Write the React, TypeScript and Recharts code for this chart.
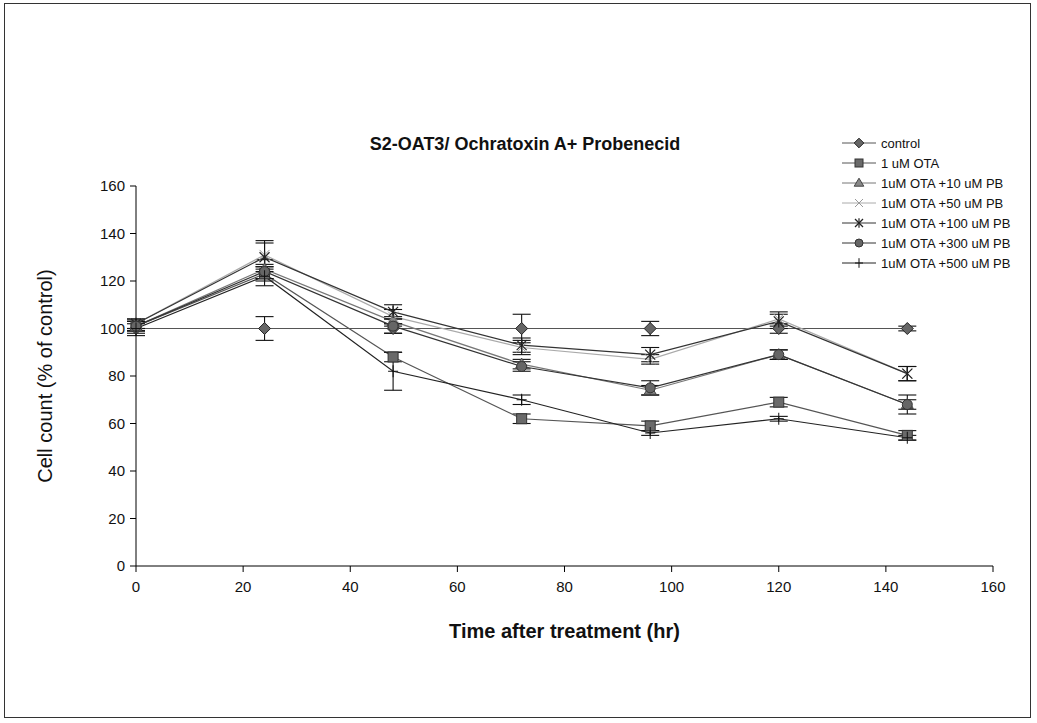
import React from "react";
import { LineChart, Line, XAxis, YAxis, ErrorBar } from "recharts";

const times = [0, 24, 48, 72, 96, 120, 144];
const xTicks = [0, 20, 40, 60, 80, 100, 120, 140, 160];
const yTicks = [0, 20, 40, 60, 80, 100, 120, 140, 160];

const control = [100, 100, 100, 100, 100, 100, 100];
const controlErr = [3, 5, 2, 6, 3, 2, 1];
const ota1 = [101, 123, 88, 62, 59, 69, 55];
const ota1Err = [2, 3, 2, 2, 2, 2, 2];
const pb10 = [101, 125, 103, 85, 74, 89, 68];
const pb10Err = [2, 4, 2, 2, 2, 2, 2];
const pb50 = [102, 131, 105, 92, 87, 104, 81];
const pb50Err = [2, 6, 3, 3, 2, 3, 3];
const pb100 = [102, 130, 107, 93, 89, 103, 81];
const pb100Err = [2, 6, 3, 3, 3, 3, 3];
const pb300 = [101, 124, 101, 84, 75, 89, 68];
const pb300Err = [2, 3, 3, 2, 3, 2, 4];
const pb500 = [100, 122, 82, 70, 56, 62, 54];
const pb500Err = [2, 4, 8, 2, 1, 1, 1];

const seriesNames = [
  "control",
  "1 uM OTA",
  "1uM OTA +10 uM PB",
  "1uM OTA +50 uM PB",
  "1uM OTA +100 uM PB",
  "1uM OTA +300 uM PB",
  "1uM OTA +500 uM PB",
];

const data = times.map((t, i) => ({
  t,
  control: control[i],
  controlErr: controlErr[i],
  ota1: ota1[i],
  ota1Err: ota1Err[i],
  pb10: pb10[i],
  pb10Err: pb10Err[i],
  pb50: pb50[i],
  pb50Err: pb50Err[i],
  pb100: pb100[i],
  pb100Err: pb100Err[i],
  pb300: pb300[i],
  pb300Err: pb300Err[i],
  pb500: pb500[i],
  pb500Err: pb500Err[i],
}));

type Shape = "diamond" | "square" | "triangle" | "x" | "star" | "circle" | "plus";

const styles: { key: string; shape: Shape; line: string; fill: string; stroke: string }[] = [
  { key: "control", shape: "diamond", line: "#555", fill: "#666", stroke: "#222" },
  { key: "ota1", shape: "square", line: "#555", fill: "#6a6a6a", stroke: "#333" },
  { key: "pb10", shape: "triangle", line: "#777", fill: "#888", stroke: "#444" },
  { key: "pb50", shape: "x", line: "#aaa", fill: "none", stroke: "#999" },
  { key: "pb100", shape: "star", line: "#333", fill: "none", stroke: "#222" },
  { key: "pb300", shape: "circle", line: "#333", fill: "#666", stroke: "#333" },
  { key: "pb500", shape: "plus", line: "#222", fill: "none", stroke: "#111" },
];

function Marker({ cx, cy, shape, fill, stroke, s = 1 }: { cx: number; cy: number; shape: Shape; fill: string; stroke: string; s?: number }) {
  const r = 5 * s;
  const h = 6 * s;
  switch (shape) {
    case "diamond":
      return <polygon points={`${cx},${cy - h} ${cx + h},${cy} ${cx},${cy + h} ${cx - h},${cy}`} fill={fill} stroke={stroke} strokeWidth={1} />;
    case "square":
      return <rect x={cx - r} y={cy - r} width={2 * r} height={2 * r} fill={fill} stroke={stroke} strokeWidth={1} />;
    case "triangle":
      return <polygon points={`${cx},${cy - h} ${cx + h},${cy + 4 * s} ${cx - h},${cy + 4 * s}`} fill={fill} stroke={stroke} strokeWidth={1} />;
    case "x":
      return (
        <g stroke={stroke} strokeWidth={1}>
          <line x1={cx - r} y1={cy - r} x2={cx + r} y2={cy + r} />
          <line x1={cx - r} y1={cy + r} x2={cx + r} y2={cy - r} />
        </g>
      );
    case "star":
      return (
        <g stroke={stroke} strokeWidth={1.2}>
          <line x1={cx - r} y1={cy - r} x2={cx + r} y2={cy + r} />
          <line x1={cx - r} y1={cy + r} x2={cx + r} y2={cy - r} />
          <line x1={cx} y1={cy - h} x2={cx} y2={cy + h} />
        </g>
      );
    case "circle":
      return <circle cx={cx} cy={cy} r={r} fill={fill} stroke={stroke} strokeWidth={1} />;
    case "plus":
      return (
        <g stroke={stroke} strokeWidth={1}>
          <line x1={cx - r} y1={cy} x2={cx + r} y2={cy} />
          <line x1={cx} y1={cy - h} x2={cx} y2={cy + h} />
        </g>
      );
  }
  return null;
}

const makeDot = (s: (typeof styles)[number]) => (props: any) => {
  const { cx, cy, index } = props;
  if (cx == null || cy == null) return <g key={index} />;
  return (
    <g key={`${s.key}-${index}`}>
      <Marker cx={cx} cy={cy} shape={s.shape} fill={s.fill} stroke={s.stroke} />
    </g>
  );
};

export default function App() {
  const font = "Liberation Sans, Arial, sans-serif";
  return (
    <div style={{ position: "absolute", left: 0, top: 0, width: 1037, height: 723, background: "#fff" }}>
      <div
        style={{
          position: "absolute",
          left: 4,
          top: 3,
          width: 1027,
          height: 715,
          border: "1.5px solid #333",
          boxSizing: "border-box",
        }}
      />
      <div style={{ position: "absolute", left: 0, top: 0 }}>
        <LineChart
          width={1037}
          height={723}
          data={data}
          margin={{ top: 186, right: 44, bottom: 127, left: 86 }}
        >
          <XAxis
            dataKey="t"
            type="number"
            domain={[0, 160]}
            ticks={xTicks}
            interval={0}
            height={30}
            tickSize={6}
            tickMargin={9}
            stroke="#000"
            tick={{ fill: "#111", fontSize: 15, fontFamily: font }}
          />
          <YAxis
            type="number"
            domain={[0, 160]}
            ticks={yTicks}
            interval={0}
            width={50}
            tickSize={6}
            tickMargin={5}
            stroke="#000"
            tick={{ fill: "#111", fontSize: 15, fontFamily: font }}
          />
          {styles.map((s, i) => (
            <Line
              key={s.key}
              dataKey={s.key}
              name={seriesNames[i]}
              stroke={s.line}
              strokeWidth={1.2}
              dot={makeDot(s)}
              activeDot={false}
              isAnimationActive={false}
            >
              <ErrorBar dataKey={`${s.key}Err`} width={9} stroke="#111" strokeWidth={1.1} direction="y" />
            </Line>
          ))}
        </LineChart>
      </div>
      <div
        style={{
          position: "absolute",
          left: 842,
          top: 133,
          width: 190,
          fontFamily: font,
          fontSize: 13,
          color: "#111",
        }}
      >
        {styles.map((s, i) => (
          <div key={s.key} style={{ display: "flex", alignItems: "center", height: 20 }}>
            <svg width={36} height={14} style={{ marginRight: 3 }}>
              <line x1={0} y1={7} x2={34} y2={7} stroke={s.line} strokeWidth={1} />
              <Marker cx={17} cy={7} shape={s.shape} fill={s.fill} stroke={s.stroke} s={0.8} />
            </svg>
            <span>{seriesNames[i]}</span>
          </div>
        ))}
      </div>
      <div
        style={{
          position: "absolute",
          left: 0,
          width: 1050,
          top: 134,
          textAlign: "center",
          fontFamily: font,
          fontWeight: "bold",
          fontSize: 18,
          color: "#111",
        }}
      >
        S2-OAT3/ Ochratoxin A+ Probenecid
      </div>
      <div
        style={{
          position: "absolute",
          left: 136,
          width: 857,
          top: 620,
          textAlign: "center",
          fontFamily: font,
          fontWeight: "bold",
          fontSize: 20,
          color: "#111",
        }}
      >
        Time after treatment (hr)
      </div>
      <div
        style={{
          position: "absolute",
          left: 45,
          top: 376,
          transform: "translate(-50%, -50%) rotate(-90deg)",
          whiteSpace: "nowrap",
          fontFamily: font,
          fontSize: 20,
          color: "#111",
        }}
      >
        Cell count (% of control)
      </div>
    </div>
  );
}
